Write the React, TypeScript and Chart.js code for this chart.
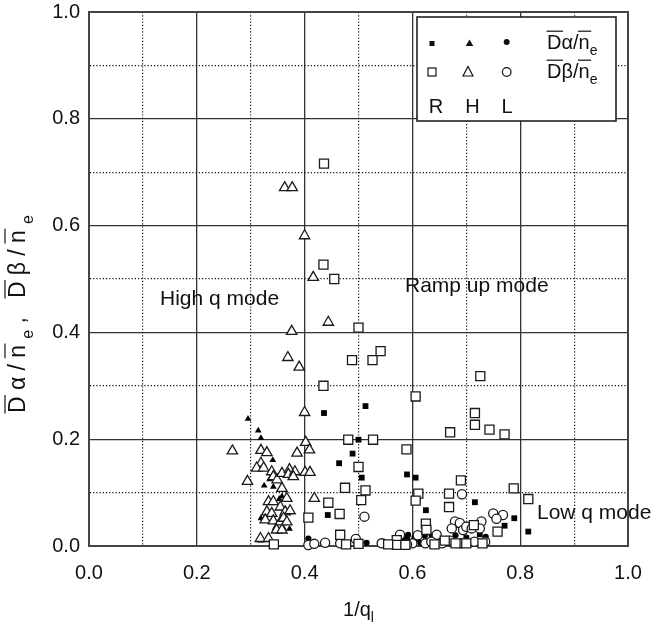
import React, { useEffect, useRef } from 'react';
import { Chart, registerables } from 'chart.js';

Chart.register(...registerables);

// ---------- data ----------
// R = ramp up mode (squares), H = high q mode (triangles), L = low q mode (circles)
// Dalpha/ne = filled markers, Dbeta/ne = open markers
const rAlphaX = [0.513, 0.436, 0.500, 0.489, 0.464, 0.506, 0.590, 0.606, 0.443, 0.625, 0.716, 0.789, 0.815, 0.771, 0.590, 0.610, 0.635, 0.660, 0.700, 0.725, 0.545, 0.686];
const rAlphaY = [0.262, 0.249, 0.199, 0.173, 0.155, 0.128, 0.134, 0.128, 0.058, 0.067, 0.082, 0.052, 0.027, 0.038, 0.016, 0.012, 0.010, 0.008, 0.015, 0.022, 0.008, 0.039];

const hAlphaX = [0.295, 0.314, 0.319, 0.341, 0.325, 0.342, 0.353, 0.358, 0.319, 0.345, 0.351, 0.361, 0.372, 0.318, 0.335, 0.360];
const hAlphaY = [0.238, 0.216, 0.202, 0.161, 0.113, 0.111, 0.088, 0.093, 0.052, 0.033, 0.031, 0.033, 0.032, 0.010, 0.125, 0.050];

const lAlphaX = [0.407, 0.464, 0.515, 0.540, 0.583, 0.592, 0.604, 0.623, 0.636, 0.688, 0.703, 0.655, 0.680, 0.736, 0.720, 0.600, 0.615];
const lAlphaY = [0.014, 0.008, 0.006, 0.005, 0.017, 0.021, 0.016, 0.019, 0.019, 0.043, 0.039, 0.012, 0.020, 0.017, 0.010, 0.008, 0.006];

const rBetaX = [0.436, 0.435, 0.455, 0.500, 0.488, 0.526, 0.541, 0.435, 0.726, 0.716, 0.606, 0.481, 0.527, 0.589, 0.500, 0.716, 0.670, 0.743, 0.771, 0.475, 0.513, 0.611, 0.505, 0.606, 0.444, 0.465, 0.407, 0.625, 0.626, 0.466, 0.343, 0.477, 0.500, 0.571, 0.571, 0.587, 0.641, 0.555, 0.690, 0.668, 0.788, 0.815, 0.668, 0.714, 0.758, 0.660, 0.680, 0.700, 0.730];
const rBetaY = [0.716, 0.527, 0.500, 0.409, 0.348, 0.348, 0.365, 0.300, 0.318, 0.249, 0.280, 0.199, 0.199, 0.181, 0.148, 0.227, 0.213, 0.218, 0.209, 0.109, 0.104, 0.098, 0.086, 0.085, 0.081, 0.060, 0.053, 0.042, 0.030, 0.021, 0.003, 0.003, 0.004, 0.011, 0.002, 0.002, 0.003, 0.003, 0.123, 0.098, 0.108, 0.088, 0.073, 0.039, 0.027, 0.010, 0.005, 0.005, 0.005];

const hBetaX = [0.363, 0.377, 0.400, 0.416, 0.444, 0.376, 0.369, 0.390, 0.400, 0.402, 0.319, 0.330, 0.386, 0.409, 0.319, 0.311, 0.324, 0.294, 0.339, 0.342, 0.349, 0.358, 0.372, 0.370, 0.382, 0.401, 0.410, 0.379, 0.358, 0.367, 0.418, 0.333, 0.342, 0.355, 0.330, 0.339, 0.364, 0.373, 0.327, 0.342, 0.355, 0.361, 0.367, 0.348, 0.358, 0.318, 0.333, 0.266];
const hBetaY = [0.671, 0.671, 0.581, 0.503, 0.419, 0.402, 0.353, 0.335, 0.250, 0.194, 0.179, 0.175, 0.174, 0.180, 0.155, 0.146, 0.146, 0.121, 0.139, 0.130, 0.124, 0.136, 0.143, 0.134, 0.139, 0.138, 0.138, 0.130, 0.108, 0.089, 0.089, 0.083, 0.083, 0.073, 0.064, 0.061, 0.064, 0.066, 0.049, 0.047, 0.045, 0.052, 0.045, 0.030, 0.030, 0.014, 0.014, 0.178];

const lBetaX = [0.511, 0.692, 0.407, 0.418, 0.438, 0.466, 0.495, 0.543, 0.577, 0.624, 0.645, 0.750, 0.768, 0.756, 0.728, 0.679, 0.688, 0.673, 0.694, 0.700, 0.710, 0.725, 0.600, 0.610, 0.635, 0.655, 0.670, 0.690, 0.715, 0.735, 0.590];
const lBetaY = [0.055, 0.097, 0.002, 0.004, 0.006, 0.005, 0.013, 0.005, 0.021, 0.005, 0.021, 0.061, 0.058, 0.051, 0.046, 0.046, 0.043, 0.033, 0.030, 0.036, 0.033, 0.033, 0.005, 0.020, 0.008, 0.005, 0.010, 0.005, 0.008, 0.008, 0.003];

const axisMin = 0;
const axisMax = 1;
const tickStep = 0.1;

const annotations = [
  { text: 'High q mode', x: 160, y: 305 },
  { text: 'Ramp up mode', x: 405, y: 292 },
  { text: 'Low q mode', x: 537, y: 519 },
];

const FONT = '"Liberation Sans", Arial, Helvetica, sans-serif';

type Seg = { t: string; sub?: boolean; over?: boolean };

const zip = (xs: number[], ys: number[]) => xs.map((x, i) => ({ x, y: ys[i] }));

function drawRich(
  ctx: CanvasRenderingContext2D,
  segs: Seg[],
  x: number,
  y: number,
  size: number,
  subSize: number,
  subDy: number,
  spacing: number,
  draw: boolean
): number {
  let cx = x;
  let first = true;
  for (const s of segs) {
    for (const ch of Array.from(s.t)) {
      if (!first) cx += spacing;
      first = false;
      const fs = s.sub ? subSize : size;
      ctx.font = `${fs}px ${FONT}`;
      const w = ctx.measureText(ch).width;
      if (draw) {
        ctx.fillText(ch, cx, y + (s.sub ? subDy : 0));
        if (s.over) {
          const oy = y - size * 0.74 - 3;
          ctx.beginPath();
          ctx.moveTo(cx - 0.5, oy);
          ctx.lineTo(cx + w + 1.5, oy);
          ctx.stroke();
        }
      }
      cx += w;
    }
  }
  return cx - x;
}

const alphaSegs: Seg[] = [
  { t: 'D', over: true },
  { t: 'α' },
  { t: '/' },
  { t: 'n', over: true },
  { t: 'e', sub: true },
];
const betaSegs: Seg[] = [
  { t: 'D', over: true },
  { t: 'β' },
  { t: '/' },
  { t: 'n', over: true },
  { t: 'e', sub: true },
];

const textPlugin = {
  id: 'textPlugin',
  beforeDatasetsDraw(chart: any) {
    const { ctx, chartArea: a } = chart;
    ctx.save();
    ctx.strokeStyle = '#444';
    ctx.lineWidth = 2;
    ctx.strokeRect(a.left, a.top, a.right - a.left, a.bottom - a.top);
    ctx.restore();
  },
  afterDraw(chart: any) {
    const ctx: CanvasRenderingContext2D = chart.ctx;
    const a = chart.chartArea;
    ctx.save();
    ctx.fillStyle = '#111';
    ctx.strokeStyle = '#111';
    ctx.lineWidth = 1.2;
    ctx.textBaseline = 'alphabetic';
    ctx.textAlign = 'left';

    // annotations
    ctx.font = `21px ${FONT}`;
    for (const an of annotations) ctx.fillText(an.text, an.x, an.y);

    // x axis title 1/q_l
    const xSegs: Seg[] = [{ t: '1/q' }, { t: 'l', sub: true }];
    const xw = drawRich(ctx, xSegs, 0, 0, 20, 14, 6, 0, false);
    drawRich(ctx, xSegs, (a.left + a.right) / 2 - xw / 2, 616, 20, 14, 6, 0, true);

    // y axis title
    const ySegs: Seg[] = [...alphaSegs, { t: ', ' }, ...betaSegs];
    const nat = drawRich(ctx, ySegs, 0, 0, 23, 16, 8, 0, false);
    const nChars = ySegs.reduce((s, g) => s + Array.from(g.t).length, 0);
    const span = 198;
    const spacing = Math.max(0, (span - nat) / (nChars - 1));
    ctx.save();
    ctx.translate(25, 413);
    ctx.rotate(-Math.PI / 2);
    drawRich(ctx, ySegs, 0, 0, 23, 16, 8, spacing, true);
    ctx.restore();

    // legend box
    ctx.fillStyle = '#fff';
    ctx.fillRect(417, 17, 199, 104);
    ctx.strokeStyle = '#222';
    ctx.lineWidth = 1.6;
    ctx.strokeRect(417, 17, 199, 104);

    ctx.fillStyle = '#111';
    ctx.strokeStyle = '#111';
    ctx.lineWidth = 1.2;
    // filled markers row
    ctx.fillRect(429.5, 41, 5, 5);
    ctx.beginPath();
    ctx.moveTo(469.5, 39.5);
    ctx.lineTo(473.3, 46);
    ctx.lineTo(465.7, 46);
    ctx.closePath();
    ctx.fill();
    ctx.beginPath();
    ctx.arc(506.7, 42, 3, 0, Math.PI * 2);
    ctx.fill();
    // open markers row
    ctx.strokeRect(428, 68, 8, 8);
    ctx.beginPath();
    ctx.moveTo(468, 66.5);
    ctx.lineTo(473, 76);
    ctx.lineTo(463, 76);
    ctx.closePath();
    ctx.stroke();
    ctx.beginPath();
    ctx.arc(506.7, 72, 4.3, 0, Math.PI * 2);
    ctx.stroke();

    // legend texts
    drawRich(ctx, alphaSegs, 547, 49, 20, 14, 6, 0, true);
    drawRich(ctx, betaSegs, 547, 78, 20, 14, 6, 0, true);
    ctx.font = `20px ${FONT}`;
    ctx.textAlign = 'center';
    ctx.fillText('R', 436, 113);
    ctx.fillText('H', 472.5, 113);
    ctx.fillText('L', 507, 113);
    ctx.restore();
  },
};

export default function App() {
  const ref = useRef<HTMLCanvasElement>(null);
  useEffect(() => {
    document.body.style.margin = '0';
    const canvas = ref.current!;
    const openBase = {
      backgroundColor: '#fff',
      borderColor: '#1a1a1a',
      borderWidth: 1.3,
      clip: false as any,
      showLine: false,
    };
    const filledBase = {
      backgroundColor: '#000',
      borderColor: '#000',
      borderWidth: 0,
      clip: false as any,
      showLine: false,
    };
    const scaleCommon = (axis: 'x' | 'y') => ({
      type: 'linear' as const,
      min: axisMin,
      max: axisMax,
      grid: {
        color: (c: any) => (c.index % 2 === 0 ? '#333' : '#111'),
        lineWidth: (c: any) => (c.index % 2 === 0 ? 1.3 : 1.2),
        drawTicks: false,
      },
      border: {
        display: true,
        color: '#444',
        width: 2,
        dash: (c: any) => (c.index !== undefined && c.index % 2 === 1 ? [1.2, 2] : []),
      },
      ticks: {
        stepSize: tickStep,
        autoSkip: false,
        maxRotation: 0,
        color: '#111',
        padding: axis === 'x' ? 15 : 9,
        font: { family: FONT, size: 20 },
        callback: (v: any, i: number) => (i % 2 === 0 ? Number(v).toFixed(1) : ''),
      },
      afterFit: (s: any) => {
        if (axis === 'y') {
          s.width = 89;
          s.paddingTop = 0;
          s.paddingBottom = 0;
        } else {
          s.height = 86;
          s.paddingLeft = 0;
          s.paddingRight = 0;
        }
      },
    });

    const chart = new Chart(canvas, {
      type: 'scatter',
      data: {
        datasets: [
          { ...openBase, data: zip(rBetaX, rBetaY), pointStyle: 'rect', pointRadius: 6.4 },
          { ...openBase, data: zip(hBetaX, hBetaY), pointStyle: 'triangle', pointRadius: 6 },
          { ...openBase, data: zip(lBetaX, lBetaY), pointStyle: 'circle', pointRadius: 4.6 },
          { ...filledBase, data: zip(rAlphaX, rAlphaY), pointStyle: 'rect', pointRadius: 4.1 },
          { ...filledBase, data: zip(hAlphaX, hAlphaY), pointStyle: 'triangle', pointRadius: 3.9 },
          { ...filledBase, data: zip(lAlphaX, lAlphaY), pointStyle: 'circle', pointRadius: 3.1 },
        ] as any,
      },
      options: {
        responsive: false,
        animation: false,
        devicePixelRatio: 1,
        layout: { padding: { left: 0, right: 44, top: 12, bottom: 0 } },
        plugins: {
          legend: { display: false },
          tooltip: { enabled: false },
          title: { display: false },
        },
        elements: { point: { hoverRadius: 6 } },
        scales: {
          x: scaleCommon('x') as any,
          y: scaleCommon('y') as any,
        },
      },
      plugins: [textPlugin],
    });
    return () => chart.destroy();
  }, []);
  return (
    <div style={{ width: 672, height: 632 }}>
      <canvas ref={ref} width={672} height={632} style={{ display: 'block', width: 672, height: 632 }} />
    </div>
  );
}
